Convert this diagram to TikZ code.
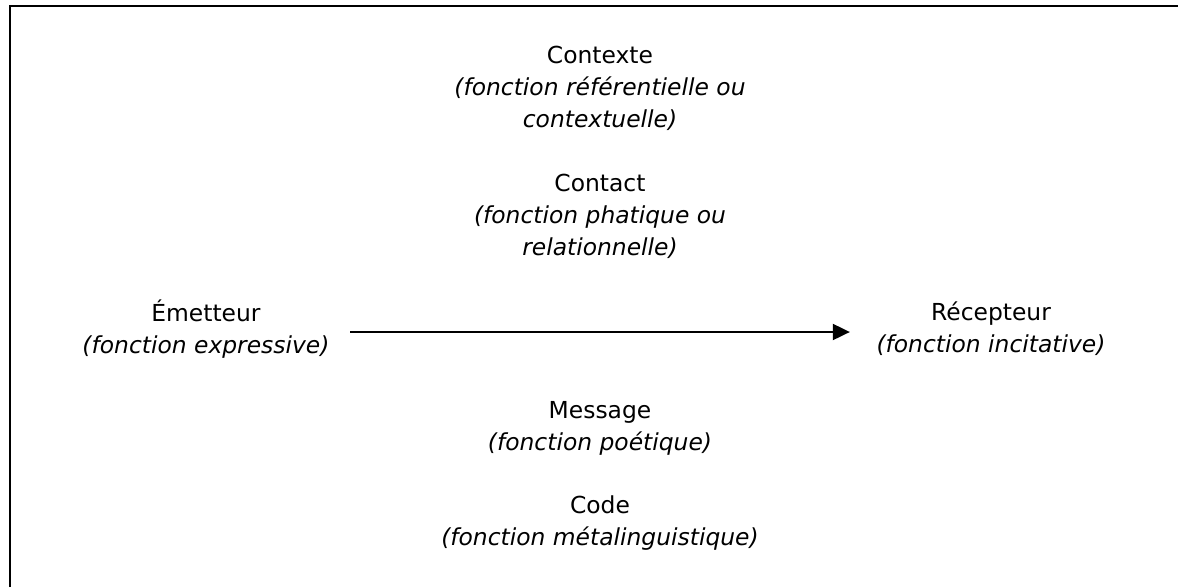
\documentclass[tikz,border=0pt]{standalone}
\usepackage{fontspec}
\setmainfont{DejaVu Sans}
\usetikzlibrary{arrows.meta}
\begin{document}
\begin{tikzpicture}[x=1pt,y=-1pt,
  label/.style={align=center,inner sep=0pt,font=\fontsize{23.4}{32}\selectfont},
  link/.style={line width=2pt,-{Triangle[length=17pt,width=16pt]}}]
  \useasboundingbox (0,0) rectangle (1178,587);
  % frame (top and left edges)
  \draw[line width=2pt] (10,587) -- (10,6) -- (1178,6);
  % functions of language
  \node[label] (contexte) at (600,88) {Contexte\\\textit{(fonction référentielle ou}\\\textit{contextuelle)}};
  \node[label] (contact) at (600,216) {Contact\\\textit{(fonction phatique ou}\\\textit{relationnelle)}};
  \node[label] (emetteur) at (206,329) {Émetteur\\\textit{(fonction expressive)}};
  \node[label] (recepteur) at (991,329) {Récepteur\\\textit{(fonction incitative)}};
  \node[label] (message) at (600,428) {Message\\\textit{(fonction poétique)}};
  \node[label] (code) at (600,523) {Code\\\textit{(fonction métalinguistique)}};
  % transmission
  \draw[link] ([xshift=20.5pt,yshift=-3pt]emetteur.east) -- ([xshift=-26.5pt,yshift=-3pt]recepteur.west);
\end{tikzpicture}
\end{document}
